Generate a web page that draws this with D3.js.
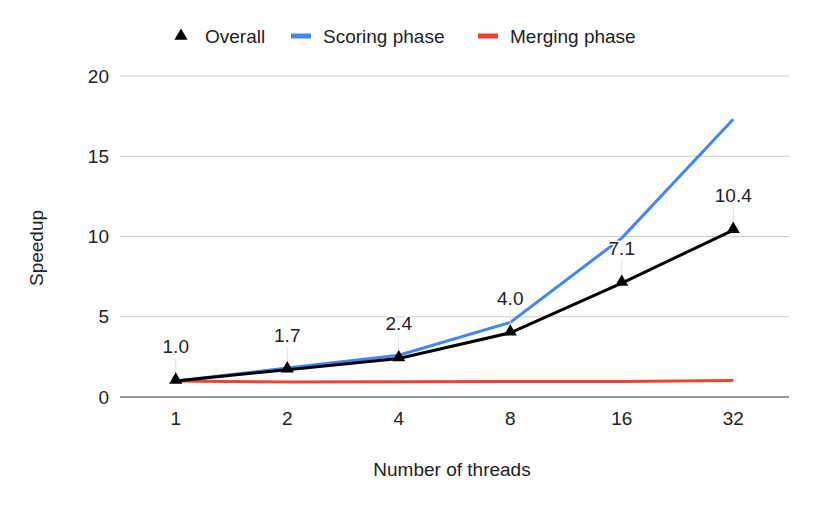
<!DOCTYPE html>
<html>
<head>
<meta charset="utf-8">
<script src="https://cdn.jsdelivr.net/npm/d3@7"></script>
<style>
  body { margin: 0; background: #fff; }
  svg { display: block; }
  text { font-family: "Liberation Sans", Arial, sans-serif; fill: #222; }
</style>
</head>
<body>
<svg id="chart"></svg>
<script>
const threads = ["1", "2", "4", "8", "16", "32"];
const overall = [1.0, 1.7, 2.4, 4.0, 7.1, 10.4];
const scoring = [1.0, 1.8, 2.6, 4.65, 9.9, 17.3];
const merging = [1.0, 0.94, 0.95, 0.97, 0.97, 1.03];
const yTicks = [0, 5, 10, 15, 20];

const width = 814, height = 506;
const margin = {top: 76, right: 25, bottom: 109, left: 120};
const fs = "19px";

const svg = d3.select("#chart")
    .attr("width", width)
    .attr("height", height);

const x = d3.scalePoint()
    .domain(threads)
    .range([margin.left, width - margin.right])
    .padding(0.5);

const y = d3.scaleLinear()
    .domain([0, 20])
    .range([height - margin.bottom, margin.top]);

// gridlines
svg.append("g")
    .selectAll("line")
    .data(yTicks.filter(d => d > 0))
    .enter().append("line")
    .attr("x1", margin.left)
    .attr("x2", width - margin.right)
    .attr("y1", d => y(d))
    .attr("y2", d => y(d))
    .attr("stroke", "#cccccc")
    .attr("stroke-width", 1);

// y tick labels
svg.append("g")
    .selectAll("text")
    .data(yTicks)
    .enter().append("text")
    .attr("x", margin.left - 11)
    .attr("y", d => y(d))
    .attr("dy", "0.35em")
    .attr("text-anchor", "end")
    .attr("font-size", fs)
    .text(d => d);

// baseline
svg.append("line")
    .attr("x1", margin.left)
    .attr("x2", width - margin.right)
    .attr("y1", y(0))
    .attr("y2", y(0))
    .attr("stroke", "#333")
    .attr("stroke-width", 1.2);

// x tick labels
svg.append("g")
    .selectAll("text")
    .data(threads)
    .enter().append("text")
    .attr("x", d => x(d))
    .attr("y", y(0) + 28)
    .attr("text-anchor", "middle")
    .attr("font-size", fs)
    .text(d => d);

// axis titles
svg.append("text")
    .attr("x", 452)
    .attr("y", 476)
    .attr("text-anchor", "middle")
    .attr("font-size", fs)
    .text("Number of threads");

svg.append("text")
    .attr("transform", "translate(43,248) rotate(-90)")
    .attr("text-anchor", "middle")
    .attr("font-size", fs)
    .text("Speedup");

const line = d3.line()
    .x((d, i) => x(threads[i]))
    .y(d => y(d));

svg.append("path")
    .datum(scoring)
    .attr("fill", "none")
    .attr("stroke", "#4285F4")
    .attr("stroke-width", 3)
    .attr("d", line);

svg.append("path")
    .datum(merging)
    .attr("fill", "none")
    .attr("stroke", "#EA4335")
    .attr("stroke-width", 3)
    .attr("d", line);

svg.append("path")
    .datum(overall)
    .attr("fill", "none")
    .attr("stroke", "#000")
    .attr("stroke-width", 3)
    .attr("d", line);

const tri = d3.symbol().type(d3.symbolTriangle).size(75);

// leader lines
svg.append("g")
    .selectAll("line")
    .data(overall)
    .enter().append("line")
    .attr("x1", (d, i) => x(threads[i]))
    .attr("x2", (d, i) => x(threads[i]))
    .attr("y1", d => y(d) - 6)
    .attr("y2", d => y(d) - 23)
    .attr("stroke", "#e0e0e0")
    .attr("stroke-width", 1);

svg.append("g")
    .selectAll("path")
    .data(overall)
    .enter().append("path")
    .attr("d", tri)
    .attr("transform", (d, i) => `translate(${x(threads[i])},${y(d) - 1})`)
    .attr("fill", "#000");

// data labels
svg.append("g")
    .selectAll("text")
    .data(overall)
    .enter().append("text")
    .attr("x", (d, i) => x(threads[i]))
    .attr("y", d => y(d) - 28)
    .attr("text-anchor", "middle")
    .attr("font-family", "Roboto, sans-serif")
    .attr("font-size", fs)
    .attr("stroke", "#fff")
    .attr("stroke-width", 3)
    .attr("paint-order", "stroke")
    .text(d => d.toFixed(1));

// legend
const legend = svg.append("g").attr("transform", "translate(0,36)");

legend.append("path")
    .attr("d", tri)
    .attr("transform", "translate(181,0)")
    .attr("fill", "#000");
legend.append("text")
    .attr("x", 205).attr("dy", "0.35em")
    .attr("font-size", fs)
    .text("Overall");

legend.append("rect")
    .attr("x", 291).attr("y", -2.5).attr("width", 20).attr("height", 5)
    .attr("fill", "#4285F4");
legend.append("text")
    .attr("x", 323).attr("dy", "0.35em")
    .attr("font-size", fs)
    .text("Scoring phase");

legend.append("rect")
    .attr("x", 478).attr("y", -2.5).attr("width", 20).attr("height", 5)
    .attr("fill", "#EA4335");
legend.append("text")
    .attr("x", 510).attr("dy", "0.35em")
    .attr("font-size", fs)
    .text("Merging phase");
</script>
</body>
</html>
